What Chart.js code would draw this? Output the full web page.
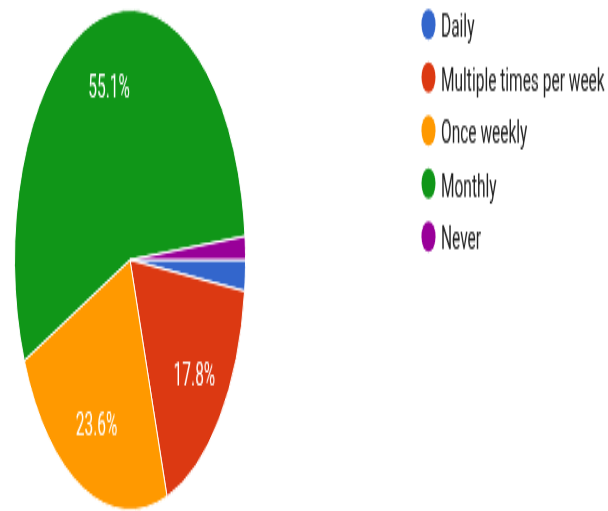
<!DOCTYPE html>
<html>
<head>
<meta charset="utf-8">
<script src="https://cdn.jsdelivr.net/npm/chart.js@4"></script>
<style>
  html, body { margin: 0; padding: 0; background: #fff; }
  body { width: 608px; height: 511px; position: relative; }
  /* the whole chart is drawn squashed and stretched back out vertically */
  #wrap { position: absolute; left: 0; top: 0; width: 608px; height: 236px; transform: scaleY(2.165); transform-origin: 0 0; }
</style>
</head>
<body>
<div id="wrap"><canvas id="myChart" width="608" height="236"></canvas></div>
<script>
var labels = ["Daily", "Multiple times per week", "Once weekly", "Monthly", "Never"];
var values = [2.0, 17.8, 23.6, 55.1, 1.5];
var colors = ["#3366cc", "#dc3912", "#ff9900", "#109618", "#990099"];

// percentage text inside the bigger slices
var sliceLabels = {
  id: 'sliceLabels',
  afterDatasetsDraw: function(chart) {
    var ctx = chart.ctx;
    var meta = chart.getDatasetMeta(0);
    var data = chart.data.datasets[0].data;
    var total = data.reduce(function(a, b) { return a + b; }, 0);
    ctx.save();
    ctx.fillStyle = '#fff';
    ctx.font = '15.5px Roboto';
    ctx.textAlign = 'center';
    ctx.textBaseline = 'alphabetic';
    meta.data.forEach(function(arc, i) {
      var pct = data[i] / total * 100;
      if (pct < 5) return;
      var p = arc.getProps(['x', 'y', 'startAngle', 'endAngle', 'outerRadius']);
      var mid = (p.startAngle + p.endAngle) / 2;
      var r = p.outerRadius * 0.72;
      ctx.fillText(pct.toFixed(1) + '%', p.x + Math.cos(mid) * r, p.y + Math.sin(mid) * r + 5.3);
    });
    ctx.restore();
  }
};

// legend column on the right
var sideLegend = {
  id: 'sideLegend',
  afterDraw: function(chart) {
    var ctx = chart.ctx;
    ctx.save();
    ctx.font = '15.5px Roboto';
    ctx.textAlign = 'left';
    ctx.textBaseline = 'alphabetic';
    labels.forEach(function(label, i) {
      var y = 11.3 + i * 24.5;
      ctx.fillStyle = colors[i];
      ctx.beginPath();
      ctx.arc(428.5, y, 7, 0, Math.PI * 2);
      ctx.fill();
      ctx.fillStyle = '#222';
      ctx.fillText(label, 441, y + 6);
    });
    ctx.restore();
  }
};

var ctx = document.getElementById('myChart').getContext('2d');
var chart = new Chart(ctx, {
  type: 'pie',
  data: {
    labels: labels,
    datasets: [{
      data: values,
      backgroundColor: colors,
      borderColor: '#fff',
      borderWidth: 1
    }]
  },
  options: {
    responsive: false,
    animation: false,
    rotation: 90,
    layout: { padding: { left: 14, top: 4, right: 362, bottom: 0 } },
    plugins: {
      legend: { display: false },
      tooltip: { enabled: false }
    }
  },
  plugins: [sliceLabels, sideLegend]
});
</script>
</body>
</html>
